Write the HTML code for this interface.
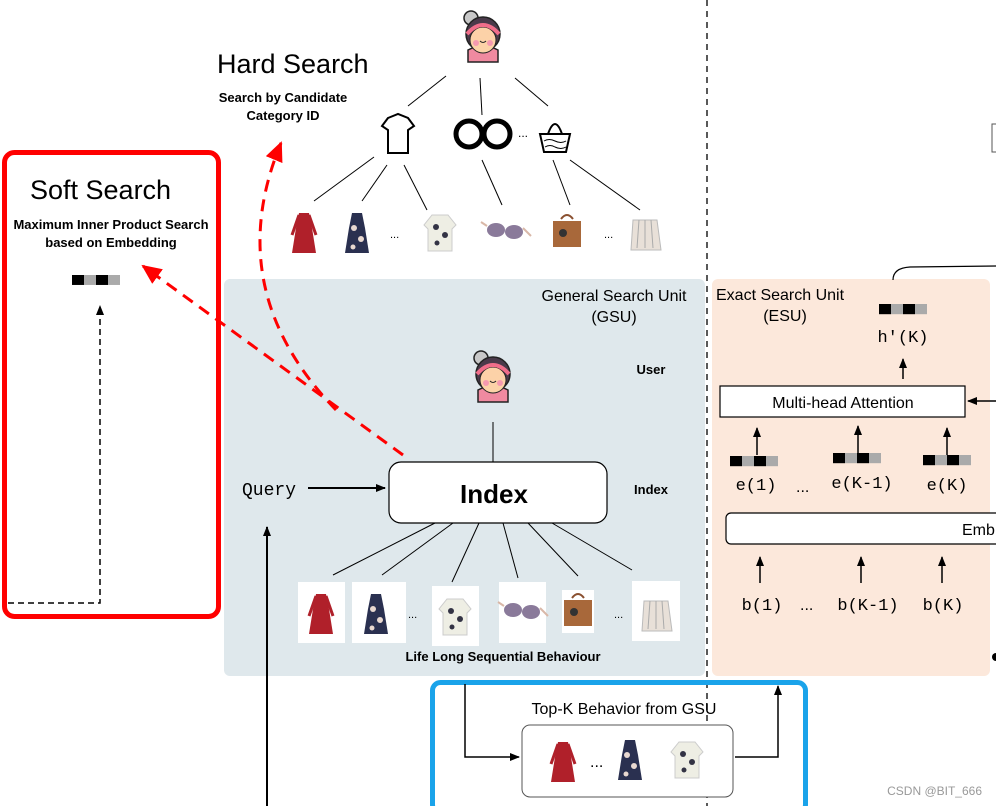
<!DOCTYPE html>
<html><head><style>
body{margin:0;background:#fff}
svg{display:block;font-family:"Liberation Sans",sans-serif}
.m{font-family:"Liberation Mono",monospace}
</style></head><body>
<svg width="996" height="806" viewBox="0 0 996 806" xmlns="http://www.w3.org/2000/svg">
<defs>
<marker id="ab" markerWidth="10" markerHeight="10" refX="9" refY="5" orient="auto" markerUnits="userSpaceOnUse"><path d="M0,1 L10,5 L0,9 z" fill="#000"/></marker>
<marker id="ar" markerWidth="22" markerHeight="22" refX="18" refY="9" orient="auto" markerUnits="userSpaceOnUse"><path d="M0,0 L20,9 L0,18 z" fill="#f00"/></marker>
<g id="girl">
<circle cx="-12" cy="-22" r="7" fill="#c8c8c8" stroke="#222" stroke-width="1.5"/>
<path d="M-15,22 L-15,10 Q0,2 15,10 L15,22 z" fill="#f08aa0" stroke="#222" stroke-width="1.5"/>
<circle cx="0" cy="-6" r="17" fill="#4a3a4a" stroke="#222" stroke-width="1.5"/>
<ellipse cx="0" cy="0" rx="13" ry="13" fill="#fcd2a8" stroke="#222" stroke-width="1"/>
<path d="M-16,-6 Q0,-24 16,-6" fill="none" stroke="#f06e8a" stroke-width="4"/>
<circle cx="-7" cy="3" r="3" fill="#f59ab0"/><circle cx="7" cy="3" r="3" fill="#f59ab0"/>
<path d="M-3,1 Q0,4 3,1" stroke="#222" fill="none"/>
</g>
<g id="dred"><path d="M-5,-20 L5,-20 L8,-5 L12,20 L-12,20 L-8,-5 z" fill="#b0202a"/><path d="M-5,-18 L-12,2 M5,-18 L12,2" stroke="#b0202a" stroke-width="3"/></g>
<g id="dnav"><path d="M-5,-20 L5,-20 L8,-5 L12,20 L-12,20 L-8,-5 z" fill="#2a3050"/><circle cx="-3" cy="-5" r="3" fill="#e8d8d0"/><circle cx="4" cy="6" r="3" fill="#e8d8d0"/><circle cx="-4" cy="14" r="2.5" fill="#e8d8d0"/></g>
<g id="shirt"><path d="M-8,-18 L8,-18 L16,-8 L12,-4 L12,18 L-12,18 L-12,-4 L-16,-8 z" fill="#eeeee4" stroke="#ccc"/><circle cx="-4" cy="-6" r="3" fill="#334"/><circle cx="5" cy="2" r="3" fill="#334"/><circle cx="-3" cy="10" r="2.5" fill="#334"/></g>
<g id="glass"><ellipse cx="-9" cy="0" rx="9" ry="7" fill="#8a7a9a"/><ellipse cx="9" cy="2" rx="9" ry="7" fill="#8a7a9a"/><path d="M-18,-4 L-24,-8 M18,-2 L26,6" stroke="#d9b8a8" stroke-width="2"/></g>
<g id="bag"><path d="M-6,-14 Q0,-22 6,-14" stroke="#8a5030" stroke-width="2" fill="none"/><rect x="-14" y="-12" width="28" height="26" fill="#a8683a"/><circle cx="-4" cy="0" r="4" fill="#333"/></g>
<g id="wbag"><path d="M-12,-14 L12,-14 L16,16 L-14,16 z" fill="#e8e0d8" stroke="#bbb"/><path d="M-6,-14 L-8,14 M0,-14 L0,14 M6,-14 L8,14" stroke="#aaa"/></g>
<g id="vec"><rect x="0" y="0" width="12" height="12" fill="#000"/><rect x="12" y="0" width="12" height="12" fill="#aaa"/><rect x="24" y="0" width="12" height="12" fill="#000"/><rect x="36" y="0" width="12" height="12" fill="#aaa"/></g>
</defs>

<rect x="224" y="279" width="481" height="397" rx="6" fill="#dfe8ec"/>
<rect x="712" y="279" width="278" height="397" rx="6" fill="#fce8db"/>
<line x1="707" y1="0" x2="707" y2="806" stroke="#222" stroke-width="1.5" stroke-dasharray="6,5"/>

<use href="#girl" x="483" y="40"/>
<line x1="446" y1="76" x2="408" y2="106" stroke="#000"/>
<line x1="480" y1="78" x2="482" y2="115" stroke="#000"/>
<line x1="515" y1="78" x2="548" y2="106" stroke="#000"/>
<path d="M388,118 L398,114 L408,118 L414,126 L408,130 L408,153 L388,153 L388,130 L382,126 z" fill="#fff" stroke="#000" stroke-width="2"/>
<circle cx="469" cy="134" r="13" fill="none" stroke="#000" stroke-width="5"/>
<circle cx="497" cy="134" r="13" fill="none" stroke="#000" stroke-width="5"/>
<text x="518" y="137" font-size="12">...</text>
<path d="M540,134 L570,134 L566,152 L544,152 z" fill="#fff" stroke="#000" stroke-width="2"/>
<path d="M548,134 Q555,114 562,134" fill="none" stroke="#000" stroke-width="2"/>
<path d="M544,141 Q549,138 555,141 Q561,144 566,141 M545,147 Q550,144 555,147 Q561,150 566,147" fill="none" stroke="#000"/>
<line x1="374" y1="157" x2="314" y2="201" stroke="#000"/>
<line x1="387" y1="165" x2="362" y2="201" stroke="#000"/>
<line x1="404" y1="165" x2="427" y2="210" stroke="#000"/>
<line x1="482" y1="160" x2="502" y2="205" stroke="#000"/>
<line x1="553" y1="160" x2="570" y2="205" stroke="#000"/>
<line x1="570" y1="160" x2="640" y2="210" stroke="#000"/>
<use href="#dred" x="304" y="233"/>
<use href="#dnav" x="357" y="233"/>
<text x="390" y="238" font-size="11">...</text>
<use href="#shirt" x="440" y="233"/>
<use href="#glass" x="505" y="230"/>
<use href="#bag" x="567" y="233"/>
<text x="604" y="238" font-size="11">...</text>
<use href="#wbag" x="645" y="234"/>

<text x="217" y="73" font-size="27">Hard Search</text>
<text x="283" y="102" font-size="13" font-weight="bold" text-anchor="middle">Search by Candidate</text>
<text x="283" y="120" font-size="13" font-weight="bold" text-anchor="middle">Category ID</text>

<rect x="4.5" y="152.5" width="214" height="464" rx="10" fill="none" stroke="#f00" stroke-width="5"/>
<text x="30" y="199" font-size="27">Soft Search</text>
<text x="111" y="229" font-size="13" font-weight="bold" text-anchor="middle">Maximum Inner Product Search</text>
<text x="111" y="247" font-size="13" font-weight="bold" text-anchor="middle">based on Embedding</text>
<use href="#vec" x="72" y="275" transform="translate(72,275) scale(1,0.83) translate(-72,-275)"/>
<path d="M8,603 L100,603 L100,306" fill="none" stroke="#000" stroke-width="1.5" stroke-dasharray="6,4" marker-end="url(#ab)"/>

<path d="M403,455 L143,266" fill="none" stroke="#f00" stroke-width="3" stroke-dasharray="12,8" marker-end="url(#ar)"/>
<path d="M336,410 Q220,290 281,143" fill="none" stroke="#f00" stroke-width="3" stroke-dasharray="12,8" marker-end="url(#ar)"/>

<text x="614" y="301" font-size="16" text-anchor="middle">General Search Unit</text>
<text x="614" y="322" font-size="16" text-anchor="middle">(GSU)</text>
<use href="#girl" x="493" y="380"/>
<text x="651" y="374" font-size="13" font-weight="bold" text-anchor="middle">User</text>
<text x="651" y="494" font-size="13" font-weight="bold" text-anchor="middle">Index</text>
<line x1="493" y1="422" x2="493" y2="462" stroke="#000"/>
<rect x="389" y="462" width="218" height="61" rx="12" fill="#fff" stroke="#000" stroke-width="1.2"/>
<text x="494" y="503" font-size="26" font-weight="bold" text-anchor="middle">Index</text>
<text class="m" x="242" y="495" font-size="18">Query</text>
<line x1="308" y1="488" x2="385" y2="488" stroke="#000" stroke-width="2" marker-end="url(#ab)"/>
<line x1="267" y1="806" x2="267" y2="527" stroke="#000" stroke-width="2" marker-end="url(#ab)"/>
<line x1="435" y1="523" x2="333" y2="575" stroke="#000"/>
<line x1="453" y1="523" x2="382" y2="575" stroke="#000"/>
<line x1="479" y1="523" x2="452" y2="582" stroke="#000"/>
<line x1="503" y1="523" x2="518" y2="578" stroke="#000"/>
<line x1="528" y1="523" x2="578" y2="576" stroke="#000"/>
<line x1="552" y1="523" x2="632" y2="570" stroke="#000"/>
<rect x="298" y="582" width="47" height="61" fill="#fff"/><use href="#dred" x="321" y="614"/>
<rect x="352" y="582" width="54" height="61" fill="#fff"/><use href="#dnav" x="376" y="614"/>
<text x="408" y="618" font-size="11">...</text>
<rect x="432" y="586" width="47" height="60" fill="#fff"/><use href="#shirt" x="455" y="617"/>
<rect x="499" y="582" width="47" height="61" fill="#fff"/><use href="#glass" x="522" y="610"/>
<rect x="562" y="590" width="32" height="43" fill="#fff"/><use href="#bag" x="578" y="612"/>
<text x="614" y="618" font-size="11">...</text>
<rect x="632" y="581" width="48" height="60" fill="#fff"/><use href="#wbag" x="656" y="615"/>
<text x="503" y="661" font-size="13" font-weight="bold" text-anchor="middle">Life Long Sequential Behaviour</text>

<path d="M893,280 Q893,268 910,267 L996,266" fill="none" stroke="#000" stroke-width="1.2"/>
<rect x="992" y="124" width="6" height="28" fill="#fff" stroke="#555"/>
<text x="716" y="300" font-size="16">Exact Search Unit</text>
<text x="785" y="321" font-size="16" text-anchor="middle">(ESU)</text>
<use href="#vec" x="879" y="304" transform="translate(879,304) scale(1,0.85) translate(-879,-304)"/>
<text class="m" x="903" y="342" font-size="17" text-anchor="middle">h′(K)</text>
<line x1="903" y1="379" x2="903" y2="359" stroke="#000" stroke-width="1.5" marker-end="url(#ab)"/>
<rect x="720" y="386" width="245" height="31" fill="#fff" stroke="#000" stroke-width="1.2"/>
<text x="843" y="408" font-size="16" text-anchor="middle">Multi-head Attention</text>
<line x1="996" y1="401" x2="968" y2="401" stroke="#000" stroke-width="1.5" marker-end="url(#ab)"/>
<line x1="757" y1="455" x2="757" y2="428" stroke="#000" stroke-width="1.5" marker-end="url(#ab)"/>
<line x1="858" y1="453" x2="858" y2="426" stroke="#000" stroke-width="1.5" marker-end="url(#ab)"/>
<line x1="947" y1="455" x2="947" y2="428" stroke="#000" stroke-width="1.5" marker-end="url(#ab)"/>
<use href="#vec" x="730" y="456" transform="translate(730,456) scale(1,0.85) translate(-730,-456)"/>
<use href="#vec" x="833" y="453" transform="translate(833,453) scale(1,0.85) translate(-833,-453)"/>
<use href="#vec" x="923" y="455" transform="translate(923,455) scale(1,0.85) translate(-923,-455)"/>
<text class="m" x="756" y="490" font-size="17" text-anchor="middle">e(1)</text>
<text x="796" y="492" font-size="16">...</text>
<text class="m" x="862" y="488" font-size="17" text-anchor="middle">e(K-1)</text>
<text class="m" x="947" y="490" font-size="17" text-anchor="middle">e(K)</text>
<rect x="726" y="513" width="290" height="31" rx="5" fill="#fff" stroke="#000" stroke-width="1.2"/>
<text x="962" y="535" font-size="16">Emb</text>
<line x1="760" y1="583" x2="760" y2="557" stroke="#000" stroke-width="1.5" marker-end="url(#ab)"/>
<line x1="861" y1="583" x2="861" y2="557" stroke="#000" stroke-width="1.5" marker-end="url(#ab)"/>
<line x1="942" y1="583" x2="942" y2="557" stroke="#000" stroke-width="1.5" marker-end="url(#ab)"/>
<text class="m" x="762" y="610" font-size="17" text-anchor="middle">b(1)</text>
<text x="800" y="610" font-size="16">...</text>
<text class="m" x="868" y="610" font-size="17" text-anchor="middle">b(K-1)</text>
<text class="m" x="943" y="610" font-size="17" text-anchor="middle">b(K)</text>
<circle cx="996" cy="657" r="4" fill="#000"/>

<rect x="432.5" y="682.5" width="373" height="130" rx="8" fill="none" stroke="#1aa3ea" stroke-width="5"/>
<text x="624" y="714" font-size="16" text-anchor="middle">Top-K Behavior from GSU</text>
<path d="M465,684 L465,757 L519,757" fill="none" stroke="#000" stroke-width="1.5" marker-end="url(#ab)"/>
<path d="M735,757 L778,757 L778,686" fill="none" stroke="#000" stroke-width="1.5" marker-end="url(#ab)"/>
<rect x="522" y="725" width="211" height="72" rx="8" fill="#fff" stroke="#555"/>
<use href="#dred" x="563" y="762"/>
<text x="590" y="767" font-size="16">...</text>
<use href="#dnav" x="630" y="760"/>
<use href="#shirt" x="687" y="760"/>
<text x="982" y="795" font-size="12" fill="#999" text-anchor="end">CSDN @BIT_666</text>
</svg>
</body></html>
